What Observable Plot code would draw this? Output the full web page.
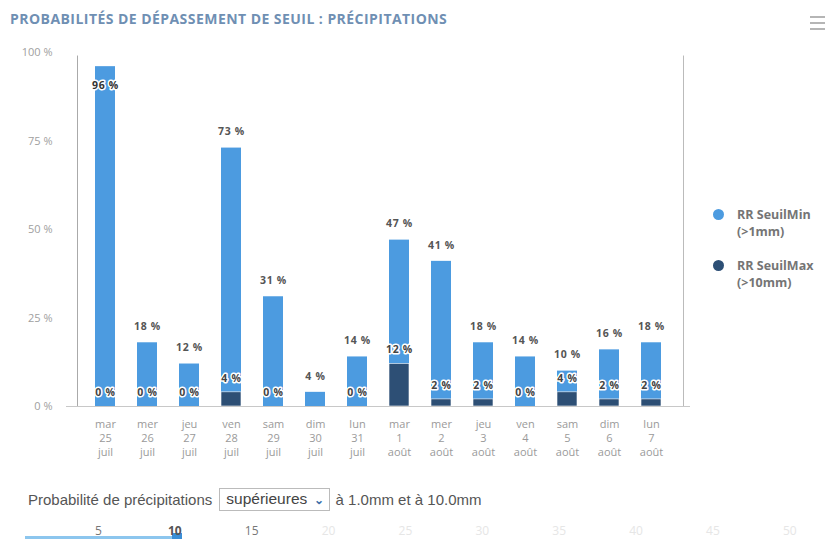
<!DOCTYPE html>
<html>
<head>
<meta charset="utf-8">
<script src="https://cdn.jsdelivr.net/npm/d3@7"></script>
<script src="https://cdn.jsdelivr.net/npm/@observablehq/plot@0.6"></script>
<style>
  html, body { margin: 0; padding: 0; background: #fff; }
  body { width: 829px; height: 539px; position: relative; overflow: hidden; font-family: "Open Sans", sans-serif; }
  #title { position: absolute; left: 10px; top: 9px; font-size: 14px; font-weight: 700; color: #6f8fb3; letter-spacing: 0.45px; white-space: nowrap; }
  #chart { position: absolute; left: 0; top: 40px; }
  #chart g[font-weight="700"] text { letter-spacing: 0.7px; }
  #menu { position: absolute; left: 810px; top: 16px; width: 15px; }
  #menu div { height: 2px; background: #b5b5b5; margin-bottom: 4px; }
  #legend { position: absolute; left: 712px; top: 206px; font-size: 12.5px; font-weight: 700; color: #757575; line-height: 17px; }
  .li { position: relative; padding-left: 25px; margin-bottom: 17px; }
  .li span.dot { position: absolute; left: 1px; top: 3px; width: 11px; height: 11px; border-radius: 50%; }
  #controls { position: absolute; left: 28px; top: 488px; font-family: "Liberation Sans", Arial, sans-serif; font-size: 15px; color: #555; display: flex; align-items: center; white-space: nowrap; }
  #sel { border: 1px solid #bbb; padding: 1px 5px 2px 6px; margin: 0 6px 0 7px; font-size: 15.5px; color: #444; }
  #sel b { font-size: 12px; color: #3c6fa8; margin-left: 2px; }
  #slider { position: absolute; left: 0; top: 520px; width: 829px; height: 20px; font-family: "Open Sans", sans-serif; font-size: 12px; }
  #slider span { position: absolute; top: 2px; color: #e6e6e6; }
</style>
</head>
<body>
<div id="title">PROBABILITÉS DE DÉPASSEMENT DE SEUIL : PRÉCIPITATIONS</div>
<div id="menu"><div></div><div></div><div></div></div>
<div id="chart"></div>
<div id="legend"></div>
<div id="controls">Probabilité de précipitations <span id="sel">supérieures <b>&#x2304;</b></span> à 1.0mm et à 10.0mm</div>
<div id="slider"></div>
<script>
const weekdays = ["mar","mer","jeu","ven","sam","dim","lun","mar","mer","jeu","ven","sam","dim","lun"];
const dayNums  = ["25","26","27","28","29","30","31","1","2","3","4","5","6","7"];
const months   = ["juil","juil","juil","juil","juil","juil","juil","août","août","août","août","août","août","août"];
const seuilMin = [96, 18, 12, 73, 31, 4, 14, 47, 41, 18, 14, 10, 16, 18];
const seuilMax = [0, 0, 0, 4, 0, null, 0, 12, 2, 2, 0, 4, 2, 2];
const seriesNames = ["RR SeuilMin\n(>1mm)", "RR SeuilMax\n(>10mm)"];
const yTicks = [0, 25, 50, 75, 100];
const sliderTicks = [5, 10, 15, 20, 25, 30, 35, 40, 45, 50];

const lightBlue = "#4c9be0";
const darkBlue = "#2d4f75";

const cats = weekdays.map((w, i) => `${w}\n${dayNums[i]}\n${months[i]}`);
const data = cats.map((c, i) => ({cat: c, min: seuilMin[i], max: seuilMax[i]}));
const withMax = data.filter(d => d.max != null);

const chart = Plot.plot({
  width: 829,
  height: 440,
  marginTop: 12,
  marginLeft: 66,
  marginRight: 139,
  marginBottom: 74,
  style: {fontFamily: "Open Sans, sans-serif", background: "transparent"},
  x: {domain: cats, padding: 0.53, label: null},
  y: {domain: [0, 100], label: null},
  marks: [
    Plot.barY(data, {x: "cat", y: "min", fill: lightBlue}),
    Plot.barY(withMax, {x: "cat", y: "max", fill: darkBlue, stroke: "white", strokeWidth: 0.6}),
    Plot.ruleY([0], {stroke: "#c8c8c8"}),
    Plot.ruleX([cats[0]], {y1: 0, y2: 99, dx: -28, stroke: "#aaa"}),
    Plot.ruleX([cats[cats.length - 1]], {y1: 0, y2: 99, dx: 32, stroke: "#bbb"}),
    Plot.text(data.filter(d => d.min <= 90), {x: "cat", y: "min", text: d => d.min + " %", dy: -16, fontSize: 10.5, fontWeight: 700, fill: "#555"}),
    Plot.text(data.filter(d => d.min > 90), {x: "cat", y: "min", text: d => d.min + " %", dy: 19, fontSize: 10.5, fontWeight: 700, fill: "#333", stroke: "white", strokeWidth: 3}),
    Plot.text(withMax, {x: "cat", y: "max", text: d => d.max + " %", dy: -14, fontSize: 10.5, fontWeight: 700, fill: "#444", stroke: "white", strokeWidth: 3}),
    Plot.axisY({ticks: yTicks, tickFormat: d => d + " %", tickSize: 0, tickPadding: 14, fill: "#a0a0a0", fontSize: 11}),
    Plot.axisX({tickSize: 0, tickPadding: 12, fill: "#9a9a9a", fontSize: 11, lineHeight: 1.27})
  ]
});
document.getElementById("chart").appendChild(chart);

const legend = document.getElementById("legend");
[lightBlue, darkBlue].forEach((col, i) => {
  const div = document.createElement("div");
  div.className = "li";
  const dot = document.createElement("span");
  dot.className = "dot";
  dot.style.background = col;
  div.appendChild(dot);
  seriesNames[i].split("\n").forEach((line, j) => {
    if (j) div.appendChild(document.createElement("br"));
    div.appendChild(document.createTextNode(line));
  });
  legend.appendChild(div);
});

const slider = document.getElementById("slider");
const xs = d3.scaleLinear().domain([5, 50]).range([98, 790]);
const track = document.createElement("div");
track.style.cssText = "position:absolute;left:25px;top:16px;height:3px;background:#8cc6ee;width:" + (xs(10) - 25) + "px";
slider.appendChild(track);
const handle = document.createElement("div");
handle.style.cssText = "position:absolute;top:13px;width:10px;height:8px;background:#3b8fd6;left:" + (xs(10) - 3) + "px";
slider.appendChild(handle);
sliderTicks.forEach(t => {
  const s = document.createElement("span");
  s.textContent = t;
  s.style.left = (xs(t) - (t < 10 ? 3 : 7)) + "px";
  if (t <= 15) s.style.color = "#777";
  if (t === 10) { s.style.color = "#555"; s.style.fontWeight = "700"; }
  slider.appendChild(s);
});
</script>
</body>
</html>
